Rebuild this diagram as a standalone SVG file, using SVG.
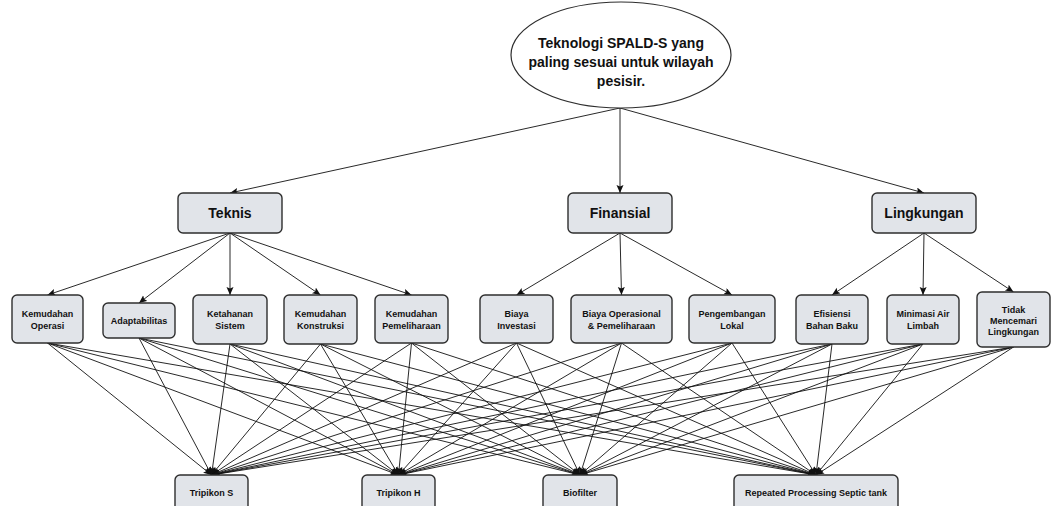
<svg xmlns="http://www.w3.org/2000/svg" width="1051" height="506" viewBox="0 0 1051 506">
<style>
.box{fill:#e1e4e9;stroke:#2e2e2e;stroke-width:1.4}
.t{font-family:"Liberation Sans",Arial,sans-serif;font-weight:bold;fill:#111;text-anchor:middle}
.s{font-size:9px}
.m{font-size:14px}
.c line{stroke:#111;stroke-width:0.9;marker-end:url(#a)}
</style>
<defs>
<marker id="a" markerUnits="userSpaceOnUse" markerWidth="10" markerHeight="10" refX="8" refY="3.5" orient="auto">
<path d="M0,0 L8,3.5 L0,7 L1.6,3.5 z" fill="#111"/>
</marker>
</defs>
<rect width="1051" height="506" fill="#fff"/>
<g class="c" id="connectors">
<line x1="620" y1="108" x2="230" y2="193"/>
<line x1="620" y1="108" x2="620" y2="193"/>
<line x1="620" y1="108" x2="924" y2="193"/>
<line x1="230" y1="233" x2="47.5" y2="295"/>
<line x1="230" y1="233" x2="139" y2="303"/>
<line x1="230" y1="233" x2="230" y2="295"/>
<line x1="230" y1="233" x2="320.5" y2="295"/>
<line x1="230" y1="233" x2="411.5" y2="295"/>
<line x1="620" y1="233" x2="516.5" y2="295"/>
<line x1="620" y1="233" x2="621.5" y2="295"/>
<line x1="620" y1="233" x2="732" y2="295"/>
<line x1="924" y1="233" x2="832" y2="295"/>
<line x1="924" y1="233" x2="923" y2="295"/>
<line x1="924" y1="233" x2="1013.5" y2="292"/>
<line x1="47.5" y1="343" x2="211.5" y2="475"/><line x1="47.5" y1="343" x2="398.5" y2="475"/><line x1="47.5" y1="343" x2="580" y2="475"/><line x1="47.5" y1="343" x2="816" y2="475"/>
<line x1="139" y1="338" x2="211.5" y2="475"/><line x1="139" y1="338" x2="398.5" y2="475"/><line x1="139" y1="338" x2="580" y2="475"/><line x1="139" y1="338" x2="816" y2="475"/>
<line x1="230" y1="344" x2="211.5" y2="475"/><line x1="230" y1="344" x2="398.5" y2="475"/><line x1="230" y1="344" x2="580" y2="475"/><line x1="230" y1="344" x2="816" y2="475"/>
<line x1="320.5" y1="344" x2="211.5" y2="475"/><line x1="320.5" y1="344" x2="398.5" y2="475"/><line x1="320.5" y1="344" x2="580" y2="475"/><line x1="320.5" y1="344" x2="816" y2="475"/>
<line x1="411.5" y1="343" x2="211.5" y2="475"/><line x1="411.5" y1="343" x2="398.5" y2="475"/><line x1="411.5" y1="343" x2="580" y2="475"/><line x1="411.5" y1="343" x2="816" y2="475"/>
<line x1="516.5" y1="343" x2="211.5" y2="475"/><line x1="516.5" y1="343" x2="398.5" y2="475"/><line x1="516.5" y1="343" x2="580" y2="475"/><line x1="516.5" y1="343" x2="816" y2="475"/>
<line x1="621.5" y1="343" x2="211.5" y2="475"/><line x1="621.5" y1="343" x2="398.5" y2="475"/><line x1="621.5" y1="343" x2="580" y2="475"/><line x1="621.5" y1="343" x2="816" y2="475"/>
<line x1="732" y1="343" x2="211.5" y2="475"/><line x1="732" y1="343" x2="398.5" y2="475"/><line x1="732" y1="343" x2="580" y2="475"/><line x1="732" y1="343" x2="816" y2="475"/>
<line x1="832" y1="344" x2="211.5" y2="475"/><line x1="832" y1="344" x2="398.5" y2="475"/><line x1="832" y1="344" x2="580" y2="475"/><line x1="832" y1="344" x2="816" y2="475"/>
<line x1="923" y1="344" x2="211.5" y2="475"/><line x1="923" y1="344" x2="398.5" y2="475"/><line x1="923" y1="344" x2="580" y2="475"/><line x1="923" y1="344" x2="816" y2="475"/>
<line x1="1013.5" y1="347" x2="211.5" y2="475"/><line x1="1013.5" y1="347" x2="398.5" y2="475"/><line x1="1013.5" y1="347" x2="580" y2="475"/><line x1="1013.5" y1="347" x2="816" y2="475"/>
</g>
<g id="goal">
<ellipse cx="621" cy="55" rx="110" ry="53" fill="#fff" stroke="#2e2e2e" stroke-width="1.2"/>
<text class="t m" x="621" y="48">Teknologi SPALD-S yang</text>
<text class="t m" x="621" y="67">paling sesuai untuk wilayah</text>
<text class="t m" x="621" y="86">pesisir.</text>
</g>
<g id="teknis"><rect class="box" x="178" y="193" width="104" height="40" rx="5"/><text class="t m" x="230" y="218">Teknis</text></g>
<g id="finansial"><rect class="box" x="568" y="193" width="104" height="40" rx="5"/><text class="t m" x="620" y="218">Finansial</text></g>
<g id="lingkungan"><rect class="box" x="872" y="193" width="104" height="40" rx="5"/><text class="t m" x="924" y="218">Lingkungan</text></g>
<g id="c1"><rect class="box" x="12" y="295" width="71" height="48" rx="5"/><text class="t s" x="47.5" y="317">Kemudahan</text><text class="t s" x="47.5" y="329">Operasi</text></g>
<g id="c2"><rect class="box" x="103" y="303" width="72" height="35" rx="5"/><text class="t s" x="139" y="324">Adaptabilitas</text></g>
<g id="c3"><rect class="box" x="193" y="295" width="74" height="49" rx="5"/><text class="t s" x="230" y="317">Ketahanan</text><text class="t s" x="230" y="329">Sistem</text></g>
<g id="c4"><rect class="box" x="284" y="295" width="73" height="49" rx="5"/><text class="t s" x="320.5" y="317">Kemudahan</text><text class="t s" x="320.5" y="329">Konstruksi</text></g>
<g id="c5"><rect class="box" x="375" y="295" width="73" height="48" rx="5"/><text class="t s" x="411.5" y="317">Kemudahan</text><text class="t s" x="411.5" y="329">Pemeliharaan</text></g>
<g id="c6"><rect class="box" x="480" y="295" width="73" height="48" rx="5"/><text class="t s" x="516.5" y="317">Biaya</text><text class="t s" x="516.5" y="329">Investasi</text></g>
<g id="c7"><rect class="box" x="571" y="295" width="101" height="48" rx="5"/><text class="t s" x="621.5" y="317">Biaya Operasional</text><text class="t s" x="621.5" y="329">&amp; Pemeliharaan</text></g>
<g id="c8"><rect class="box" x="689" y="295" width="86" height="48" rx="5"/><text class="t s" x="732" y="317">Pengembangan</text><text class="t s" x="732" y="329">Lokal</text></g>
<g id="c9"><rect class="box" x="796" y="295" width="72" height="49" rx="5"/><text class="t s" x="832" y="317">Efisiensi</text><text class="t s" x="832" y="329">Bahan Baku</text></g>
<g id="c10"><rect class="box" x="887" y="295" width="72" height="49" rx="5"/><text class="t s" x="923" y="317">Minimasi Air</text><text class="t s" x="923" y="329">Limbah</text></g>
<g id="c11"><rect class="box" x="977" y="292" width="73" height="55" rx="5"/><text class="t s" x="1013.5" y="313">Tidak</text><text class="t s" x="1013.5" y="324">Mencemari</text><text class="t s" x="1013.5" y="335">Lingkungan</text></g>
<g id="a1"><rect class="box" x="175" y="475" width="73" height="40" rx="5"/><text class="t s" x="211.5" y="496">Tripikon S</text></g>
<g id="a2"><rect class="box" x="362" y="475" width="73" height="40" rx="5"/><text class="t s" x="398.5" y="496">Tripikon H</text></g>
<g id="a3"><rect class="box" x="543" y="475" width="74" height="40" rx="5"/><text class="t s" x="580" y="496">Biofilter</text></g>
<g id="a4"><rect class="box" x="734" y="475" width="164" height="40" rx="5"/><text class="t s" x="816" y="496">Repeated Processing Septic tank</text></g>
</svg>
